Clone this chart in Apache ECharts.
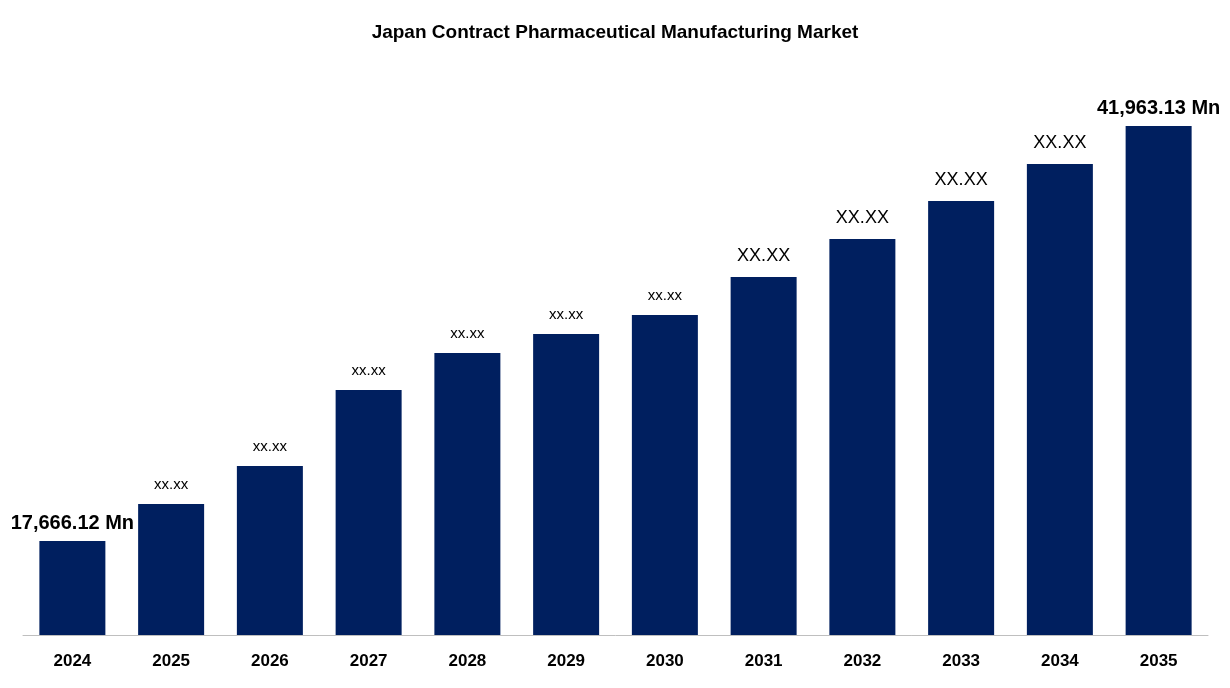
<!DOCTYPE html>
<html>
<head>
<meta charset="utf-8">
<script src="https://cdn.jsdelivr.net/npm/echarts@6/dist/echarts.min.js"></script>
<style>html,body{margin:0;padding:0;background:#fff}#main{width:1230px;height:688px}</style>
</head>
<body>
<div id="main"></div>
<script>
// 年份和数值
var years = ['2024','2025','2026','2027','2028','2029','2030','2031','2032','2033','2034','2035'];
var values = [17666.12, 19832, 22057, 26507, 28673, 29785, 30898, 33123, 35348, 37573, 39739, 41963.13];
var labels = ['17,666.12 Mn','xx.xx','xx.xx','xx.xx','xx.xx','xx.xx','xx.xx','XX.XX','XX.XX','XX.XX','XX.XX','41,963.13 Mn'];

var chart = echarts.init(document.getElementById('main'));

var data = values.map(function (v, i) {
    var size = 15, bold = false;
    if (i == 0 || i == labels.length - 1) { size = 20; bold = true; }
    else if (i >= 7) size = 18;
    return {
        value: v,
        label: {
            show: true,
            position: 'top',
            distance: i == 0 || i == labels.length - 1 ? 8 : 12,
            formatter: labels[i],
            color: '#000',
            fontSize: size,
            fontWeight: bold ? 'bold' : 'normal'
        }
    };
});

chart.setOption({
    textStyle: {fontFamily: 'Liberation Sans, Arial, sans-serif'},
    title: {
        text: 'Japan Contract Pharmaceutical Manufacturing Market',
        left: 'center',
        top: 18,
        textStyle: {color: '#000', fontSize: 19, fontWeight: 'bold'}
    },
    grid: {left: 23, right: 22, top: 100, bottom: 53},
    xAxis: {
        type: 'category',
        data: years,
        axisTick: {show: false},
        axisLine: {lineStyle: {color: '#bfbfbf', width: 1}},
        axisLabel: {color: '#000', fontSize: 17, fontWeight: 'bold', margin: 18}
    },
    yAxis: {
        type: 'value',
        min: 12162,
        max: 43486,
        show: false,
        splitLine: {show: false}
    },
    series: [{
        type: 'bar',
        data: data,
        barWidth: 66,
        itemStyle: {color: '#001f5f'}
    }]
});
</script>
</body>
</html>
